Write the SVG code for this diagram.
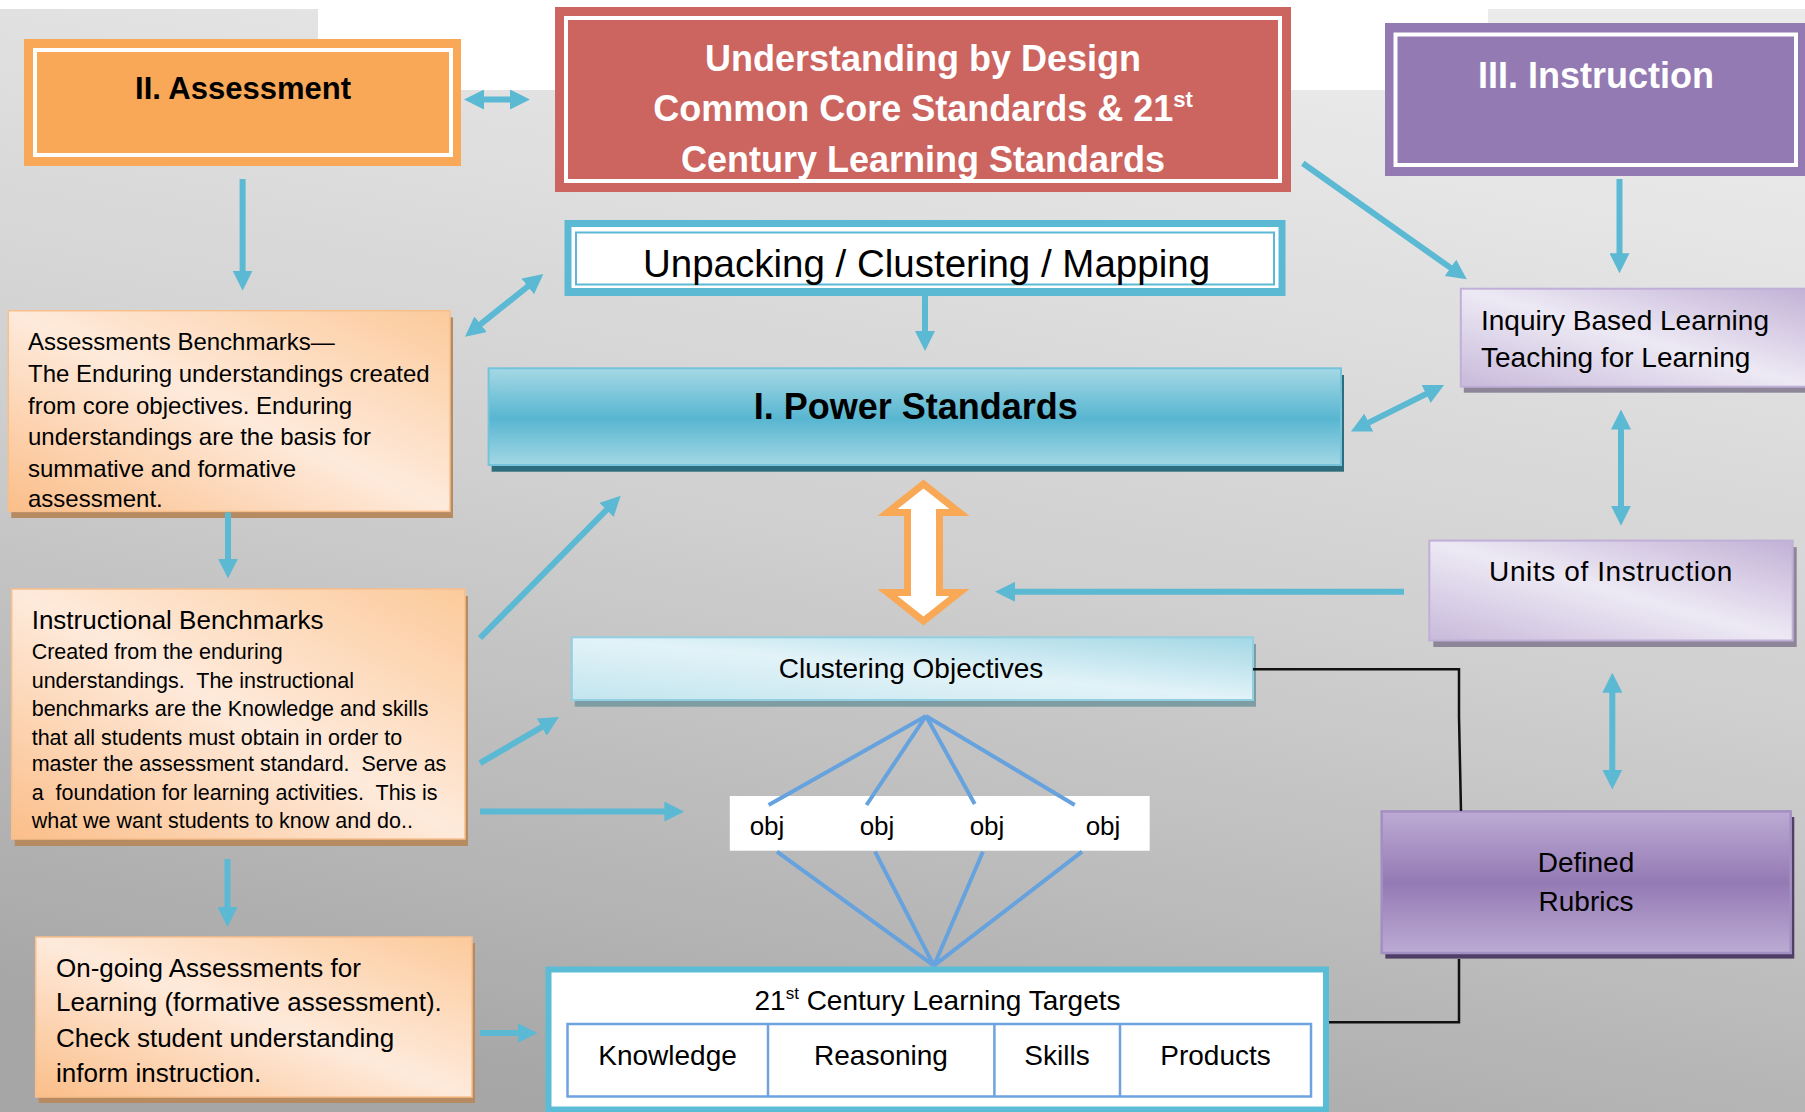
<svg xmlns="http://www.w3.org/2000/svg" width="1805" height="1112" viewBox="0 0 1805 1112">
<defs>
<style>
.t{font-family:"Liberation Sans",Arial,sans-serif;fill:#000}
.b{font-weight:bold}
.w{fill:#fff}
.m{text-anchor:middle}
.pre{white-space:pre}
.arr{stroke:#5bb9d4;stroke-width:6;fill:none;marker-end:url(#ah)}
.dbl{marker-start:url(#ah)}
.obl{stroke:#66a2de;stroke-width:4;fill:none}
.blk{stroke:#111;stroke-width:2.5;fill:none}
.shO{fill:#b68b61}
.shL{fill:#8d8598}
.or{fill:url(#gOr);stroke:#f7bf8c;stroke-width:1.5}
.lav{fill:url(#gLav);stroke:#c0afd7;stroke-width:2}
</style>
<linearGradient id="bg" x1="0.65" y1="0" x2="0.35" y2="1">
<stop offset="0" stop-color="#ebebeb"/><stop offset="0.5" stop-color="#cfcfcf"/><stop offset="1" stop-color="#a6a6a6"/>
</linearGradient>
<linearGradient id="gOr" x1="0" y1="1" x2="1" y2="0">
<stop offset="0" stop-color="#fbbe89"/><stop offset="0.5" stop-color="#feeadb"/><stop offset="1" stop-color="#fcca9b"/>
</linearGradient>
<linearGradient id="gLav" x1="0" y1="1" x2="1" y2="0">
<stop offset="0" stop-color="#c8badb"/><stop offset="0.5" stop-color="#ede9f4"/><stop offset="1" stop-color="#c2b1d6"/>
</linearGradient>
<linearGradient id="gClu" x1="0" y1="1" x2="1" y2="0">
<stop offset="0" stop-color="#c3e5ee"/><stop offset="0.5" stop-color="#e2f3f8"/><stop offset="1" stop-color="#a3d7e5"/>
</linearGradient>
<linearGradient id="gPow" x1="0" y1="0" x2="0" y2="1">
<stop offset="0" stop-color="#a5d8e5"/><stop offset="0.52" stop-color="#58b6d1"/><stop offset="1" stop-color="#a3d7e4"/>
</linearGradient>
<linearGradient id="gRub" x1="0" y1="0" x2="0" y2="1">
<stop offset="0" stop-color="#bdabd4"/><stop offset="0.5" stop-color="#947ab4"/><stop offset="1" stop-color="#bcabd4"/>
</linearGradient>
<marker id="ah" viewBox="0 0 20 20" refX="8" refY="10" markerWidth="20" markerHeight="20" markerUnits="userSpaceOnUse" orient="auto-start-reverse">
<path d="M0,0 L20,10 L0,20 z" fill="#5bb9d4"/>
</marker>
</defs>

<rect x="0" y="0" width="1805" height="1112" fill="#fff"/>
<rect x="0" y="9" width="1805" height="1103" fill="url(#bg)"/>
<rect x="318" y="0" width="1170" height="90" fill="#fff"/>

<g id="assessment">
<rect x="24" y="39" width="437" height="127" fill="#f9a857"/>
<rect x="35" y="50" width="416" height="105" fill="#f9a857" stroke="#fff" stroke-width="4"/>
<text x="243" y="99" class="t b m" font-size="31">II. Assessment</text>
</g>

<g id="title">
<rect x="555" y="7" width="736" height="185" fill="#cc6560"/>
<rect x="566" y="18" width="714" height="163" fill="none" stroke="#fff" stroke-width="4"/>
<text x="923" y="71" class="t b w m" font-size="36">Understanding by Design</text>
<text x="923" y="121" class="t b w m" font-size="36">Common Core Standards &amp; 21<tspan dy="-14" font-size="22">st</tspan></text>
<text x="923" y="172" class="t b w m" font-size="36">Century Learning Standards</text>
</g>

<g id="instruction">
<rect x="1385" y="23" width="425" height="153" fill="#937ab2"/>
<rect x="1395.5" y="34.5" width="400.5" height="130.5" fill="none" stroke="#fff" stroke-width="4"/>
<text x="1596" y="88" class="t b w m" font-size="36">III. Instruction</text>
</g>

<g id="unpacking">
<rect x="564.5" y="220" width="721" height="76" fill="#5bb9d4"/>
<rect x="571.5" y="227" width="707" height="61" fill="#fff"/>
<rect x="576" y="232.5" width="698" height="52" fill="none" stroke="#5bb9d4" stroke-width="2"/>
<text x="926.5" y="277" class="t m" font-size="38.5">Unpacking / Clustering / Mapping</text>
</g>

<g id="power-standards">
<rect x="491.6" y="375" width="852.4" height="96.7" fill="#2e6d7d"/>
<rect x="488.6" y="368.3" width="852.4" height="96.7" fill="url(#gPow)" stroke="#74c3da" stroke-width="2"/>
<text x="915.7" y="419" class="t b m" font-size="36">I. Power Standards</text>
</g>

<g id="assessment-benchmarks">
<rect x="11.3" y="317.3" width="441.7" height="200.7" class="shO"/>
<rect x="8.3" y="310.7" width="441.7" height="200.7" class="or"/>
<text class="t" font-size="24">
<tspan x="28" y="350">Assessments Benchmarks—</tspan>
<tspan x="28" y="382">The Enduring understandings created</tspan>
<tspan x="28" y="413.6">from core objectives. Enduring</tspan>
<tspan x="28" y="444.6">understandings are the basis for</tspan>
<tspan x="28" y="476.8">summative and formative</tspan>
<tspan x="28" y="507">assessment.</tspan>
</text>
</g>

<g id="instructional-benchmarks">
<rect x="14.7" y="596" width="453.3" height="250" class="shO"/>
<rect x="11.7" y="589" width="453.3" height="250" class="or"/>
<text x="31.7" y="628.6" class="t" font-size="26">Instructional Benchmarks</text>
<text class="t pre" font-size="21.5" xml:space="preserve"><tspan x="31.7" y="659">Created from the enduring</tspan><tspan x="31.7" y="687.5">understandings.  The instructional</tspan><tspan x="31.7" y="716">benchmarks are the Knowledge and skills</tspan><tspan x="31.7" y="744.6">that all students must obtain in order to</tspan><tspan x="31.7" y="771.4">master the assessment standard.  Serve as</tspan><tspan x="31.7" y="800">a  foundation for learning activities.  This is</tspan><tspan x="31.7" y="828">what we want students to know and do..</tspan></text>
</g>

<g id="ongoing-assessments">
<rect x="38.7" y="943" width="436.3" height="160" class="shO"/>
<rect x="35.7" y="937" width="436.3" height="160" class="or"/>
<text class="t" font-size="26">
<tspan x="56" y="976.7">On-going Assessments for</tspan>
<tspan x="56" y="1010.7">Learning (formative assessment).</tspan>
<tspan x="56" y="1046.7">Check student understanding</tspan>
<tspan x="56" y="1081.7">inform instruction.</tspan>
</text>
</g>

<g id="clustering-objectives">
<rect x="574.8" y="644" width="681.2" height="62.7" fill="#7d9ca3"/>
<rect x="571.8" y="637.3" width="681.2" height="62.7" fill="url(#gClu)" stroke="#92cfe0" stroke-width="2"/>
<text x="911" y="678" class="t m" font-size="28">Clustering Objectives</text>
</g>

<g id="objectives">
<rect x="729.8" y="796" width="419.9" height="54.7" fill="#fff"/>
<text y="835" class="t m" font-size="26"><tspan x="767">obj</tspan><tspan x="877">obj</tspan><tspan x="987">obj</tspan><tspan x="1103">obj</tspan></text>
</g>

<g id="learning-targets">
<rect x="548.5" y="969.5" width="777.5" height="140" fill="#fff" stroke="#5bbcd6" stroke-width="6"/>
<text x="937.5" y="1010" class="t m" font-size="28">21<tspan dy="-11" font-size="17">st</tspan><tspan dy="11"> Century Learning Targets</tspan></text>
<rect x="567.5" y="1024" width="743.5" height="72.5" fill="none" stroke="#6fa3df" stroke-width="2.5"/>
<path d="M768,1024 V1096.5 M994.4,1024 V1096.5 M1120,1024 V1096.5" stroke="#6fa3df" stroke-width="2.5" fill="none"/>
<text y="1065" class="t m" font-size="28"><tspan x="667.5">Knowledge</tspan><tspan x="881">Reasoning</tspan><tspan x="1057">Skills</tspan><tspan x="1215.5">Products</tspan></text>
</g>

<g id="inquiry">
<rect x="1463.8" y="294.7" width="350" height="98" class="shL"/>
<rect x="1460.8" y="288.7" width="350" height="98" class="lav"/>
<text class="t" font-size="28"><tspan x="1481" y="330">Inquiry Based Learning</tspan><tspan x="1481" y="367">Teaching for Learning</tspan></text>
</g>

<g id="units">
<rect x="1433.3" y="547.1" width="363.4" height="99.9" class="shL"/>
<rect x="1429.3" y="540.6" width="363.4" height="99.9" class="lav"/>
<text x="1611" y="581" class="t m" font-size="28" letter-spacing="0.6">Units of Instruction</text>
</g>

<g id="rubrics">
<rect x="1385.3" y="817" width="409" height="141.6" fill="#4f3f67"/>
<rect x="1381.7" y="811.4" width="409" height="141.6" fill="url(#gRub)" stroke="#a48fc2" stroke-width="2.5"/>
<text class="t m" font-size="28"><tspan x="1586" y="872">Defined</tspan><tspan x="1586" y="910.5">Rubrics</tspan></text>
</g>

<g id="connectors">
<line x1="476" y1="99.5" x2="518" y2="99.5" class="arr dbl"/>
<line x1="242.6" y1="179" x2="242.6" y2="278.7" class="arr"/>
<line x1="474.4" y1="329.2" x2="534" y2="281.5" class="arr dbl"/>
<line x1="925" y1="296" x2="925" y2="339" class="arr"/>
<line x1="1302.8" y1="163.3" x2="1457" y2="272.4" class="arr"/>
<line x1="1619.5" y1="179" x2="1619.5" y2="261.3" class="arr"/>
<line x1="1361.7" y1="426.1" x2="1433.3" y2="390.4" class="arr dbl"/>
<line x1="1621" y1="421.5" x2="1621" y2="513.8" class="arr dbl"/>
<line x1="1404" y1="591.8" x2="1007" y2="591.8" class="arr"/>
<line x1="1612.3" y1="684.7" x2="1612.3" y2="777.6" class="arr dbl"/>
<line x1="228" y1="512.5" x2="228" y2="566.6" class="arr"/>
<line x1="227.5" y1="859" x2="227.5" y2="915" class="arr"/>
<line x1="480" y1="638" x2="612.2" y2="504.2" class="arr"/>
<line x1="480" y1="763.2" x2="548.6" y2="723.1" class="arr"/>
<line x1="480" y1="811.6" x2="672.4" y2="811.6" class="arr"/>
<line x1="480" y1="1033" x2="525.5" y2="1033" class="arr"/>
<polygon points="923.5,484 959.5,512.5 939.5,512.5 939.5,592.5 959.5,592.5 923.5,621 887.5,592.5 907.5,592.5 907.5,512.5 887.5,512.5" fill="#fff" stroke="#f9a856" stroke-width="7"/>
<path d="M926,716 L768.6,805 M926,716 L866.5,805 M926,716 L974.7,804 M926,716 L1074.7,805" class="obl"/>
<path d="M777,851.7 L933.9,965.7 M875,851.7 L933.9,965.7 M982.9,851.7 L933.9,965.7 M1082,851.7 L933.9,965.7" class="obl"/>
<path d="M1253,669.3 H1459 V717 L1461,811" class="blk"/>
<path d="M1459,959 V1022.3 H1329" class="blk"/>
</g>
</svg>
